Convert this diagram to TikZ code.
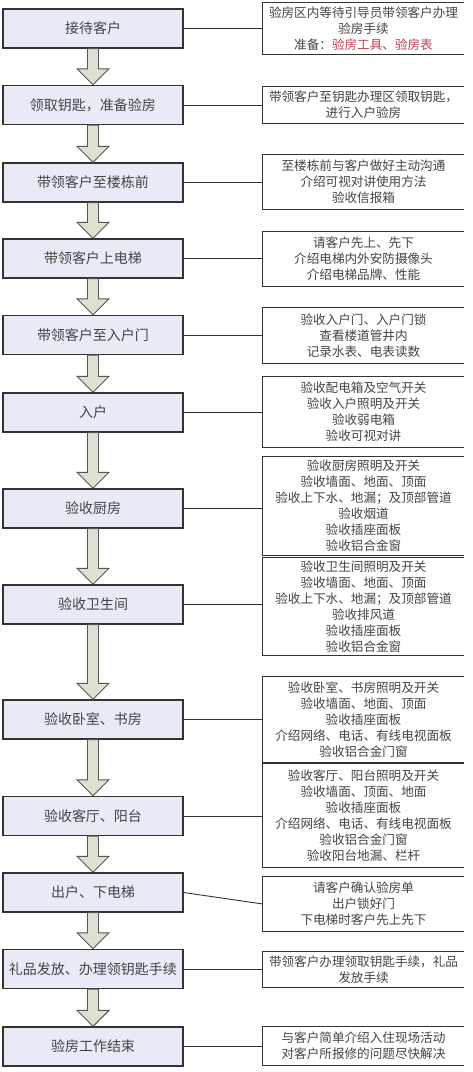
\documentclass[tikz,border=0pt]{standalone}
\usepackage{fontspec}
\newfontfamily\cjk{Noto Sans CJK SC}
\usetikzlibrary{calc}
\definecolor{boxfill}{HTML}{E8EBF6}
\definecolor{boxline}{HTML}{333333}
\definecolor{arrfill}{HTML}{E0E0D0}
\definecolor{arrline}{HTML}{555555}
\definecolor{txt}{HTML}{444444}
\definecolor{redtxt}{HTML}{C0404F}
\begin{document}
\begin{tikzpicture}[x=1pt,y=-1pt,
 stepbox/.style={draw=boxline, line width=1.3pt, fill=boxfill, minimum width=180pt, minimum height=39pt, inner sep=0pt, font=\cjk\fontsize{14}{16}\selectfont, text=txt},
 notebox/.style={minimum width=201pt, inner sep=0pt, align=center, font=\cjk\fontsize{12.6}{16}\selectfont, text=txt},
 noteline/.style={draw=boxline, line width=1.2pt},
 link/.style={draw=boxline, line width=0.9pt},
 blockarrow/.style={draw=arrline, fill=arrfill, line width=0.9pt, line join=miter}]
\useasboundingbox[fill=white] (0,0) rectangle (472,1072);

% left step boxes
\node[stepbox] (l1) at (93,28.5) {接待客户};
\node[stepbox] (l2) at (93,105) {领取钥匙，准备验房};
\node[stepbox] (l3) at (93,182.5) {带领客户至楼栋前};
\node[stepbox] (l4) at (93,258.5) {带领客户上电梯};
\node[stepbox] (l5) at (93,335) {带领客户至入户门};
\node[stepbox] (l6) at (93,412.5) {入户};
\node[stepbox] (l7) at (93,508.5) {验收厨房};
\node[stepbox] (l8) at (93,604.5) {验收卫生间};
\node[stepbox] (l9) at (93,719.5) {验收卧室、书房};
\node[stepbox] (l10) at (93,816) {验收客厅、阳台};
\node[stepbox] (l11) at (93,892.5) {出户、下电梯};
\node[stepbox] (l12) at (93,969) {礼品发放、办理领钥匙手续};
\node[stepbox] (l13) at (93,1046.5) {验房工作结束};

% block arrows
\foreach \a/\b in {l1/l2,l2/l3,l3/l4,l4/l5,l5/l6,l6/l7,l7/l8,l8/l9,l9/l10,l10/l11,l11/l12,l12/l13}{
  \draw[blockarrow] ($(\a.south)+(-5.5,0)$) -- ($(\b.north)+(-5.5,-16)$) -- ($(\b.north)+(-16,-16)$) -- (\b.north)
     -- ($(\b.north)+(16,-16)$) -- ($(\b.north)+(5.5,-16)$) -- ($(\a.south)+(5.5,0)$) -- cycle;
}

% right note boxes
\node[notebox, minimum height=51pt] (r1) at (363.5,28.5) {验房区内等待引导员带领客户办理\\验房手续\\准备：{\color{redtxt}验房工具、验房表}};
\node[notebox, minimum height=36pt] (r2) at (363.5,105) {带领客户至钥匙办理区领取钥匙，\\进行入户验房};
\node[notebox, minimum height=54pt] (r3) at (363.5,182) {至楼栋前与客户做好主动沟通\\介绍可视对讲使用方法\\验收信报箱};
\node[notebox, minimum height=54pt] (r4) at (363.5,259) {请客户先上、先下\\介绍电梯内外安防摄像头\\介绍电梯品牌、性能};
\node[notebox, minimum height=55pt] (r5) at (363.5,335.5) {验收入户门、入户门锁\\查看楼道管井内\\记录水表、电表读数};
\node[notebox, minimum height=70pt] (r6) at (363.5,412) {验收配电箱及空气开关\\验收入户照明及开关\\验收弱电箱\\验收可视对讲};
\node[notebox, minimum height=98pt] (r7) at (363.5,506) {验收厨房照明及开关\\验收墙面、地面、顶面\\验收上下水、地漏；及顶部管道\\验收烟道\\验收插座面板\\验收铝合金窗};
\node[notebox, minimum height=97pt] (r8) at (363.5,606.5) {验收卫生间照明及开关\\验收墙面、地面、顶面\\验收上下水、地漏；及顶部管道\\验收排风道\\验收插座面板\\验收铝合金窗};
\node[notebox, minimum height=85pt] (r9) at (363.5,719.5) {验收卧室、书房照明及开关\\验收墙面、地面、顶面\\验收插座面板\\介绍网络、电话、有线电视面板\\验收铝合金门窗};
\node[notebox, minimum height=103pt] (r10) at (363.5,815.5) {验收客厅、阳台照明及开关\\验收墙面、顶面、地面\\验收插座面板\\介绍网络、电话、有线电视面板\\验收铝合金门窗\\验收阳台地漏、栏杆};
\node[notebox, minimum height=54pt] (r11) at (363.5,904) {请客户确认验房单\\出户锁好门\\下电梯时客户先上先下};
\node[notebox, minimum height=35pt] (r12) at (363.5,969.5) {带领客户办理领取钥匙手续，礼品\\发放手续};
\node[notebox, minimum height=38pt] (r13) at (363.5,1046) {与客户简单介绍入住现场活动\\对客户所报修的问题尽快解决};

\foreach \r in {r1,r2,r3,r4,r5,r6,r7,r8,r9,r10,r11,r12,r13}{
  \draw[noteline] (\r.north east) -- (\r.north west) -- (\r.south west) -- (\r.south east);
}

% connectors
\foreach \i in {1,2,3,4,5,6,7,8,9,10,12,13}{
  \draw[link] (l\i.east) -- (l\i.east -| r\i.west);
}
\draw[link] (l11.east) -- (r11.west);
\end{tikzpicture}
\end{document}
